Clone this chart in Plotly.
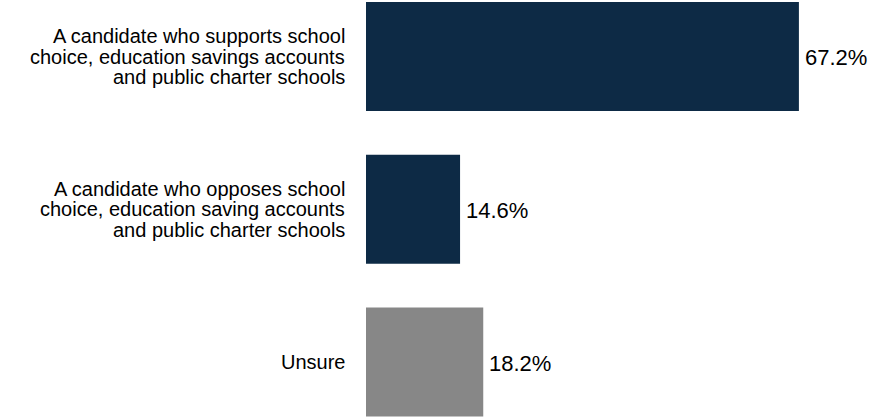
import plotly.graph_objects as go

categories = [
    "A candidate who supports school<br>choice, education savings accounts<br>and public charter schools",
    "A candidate who opposes school<br>choice, education saving accounts<br>and public charter schools",
    "Unsure",
]
values = [67.2, 14.6, 18.2]
value_labels = ["67.2%", "14.6%", "18.2%"]
colors = ["#0d2a45", "#0d2a45", "#878787"]

FONT = "Liberation Sans, Arial, sans-serif"

fig = go.Figure()
fig.add_trace(go.Bar(
    x=values,
    y=categories,
    orientation="h",
    width=0.714,
    marker=dict(color=colors, line=dict(width=0)),
    hoverinfo="skip",
))

annotations = []
line_h = 20.5
for cat in categories:
    lines = cat.split("<br>")
    n = len(lines)
    for i, ln in enumerate(lines):
        annotations.append(dict(
            x=0, xref="paper", xanchor="right", xshift=-19,
            y=cat, yref="y", yanchor="middle",
            yshift=((n - 1) / 2 - i) * line_h,
            text=ln, showarrow=False,
            font=dict(family=FONT, size=20, color="#000000"),
        ))
for cat, v, lab in zip(categories, values, value_labels):
    annotations.append(dict(
        x=v, xref="x", xanchor="left", xshift=4,
        y=cat, yref="y", yanchor="middle", yshift=-1,
        text=lab, showarrow=False,
        font=dict(family=FONT, size=22, color="#000000"),
    ))

fig.update_layout(
    width=873, height=417,
    margin=dict(l=366, r=0, t=0, b=0),
    plot_bgcolor="white", paper_bgcolor="white",
    showlegend=False,
    hovermode=False,
    annotations=annotations,
    xaxis=dict(range=[0, 78.7], visible=False, fixedrange=True),
    yaxis=dict(range=[2.36, -0.37], showticklabels=False, showgrid=False,
               zeroline=False, showline=False, ticks="", fixedrange=True),
)

fig.write_html(
    "out.html",
    config={"displayModeBar": False, "staticPlot": True},
    post_script="document.body.style.margin='0';document.body.style.overflow='hidden';",
)
